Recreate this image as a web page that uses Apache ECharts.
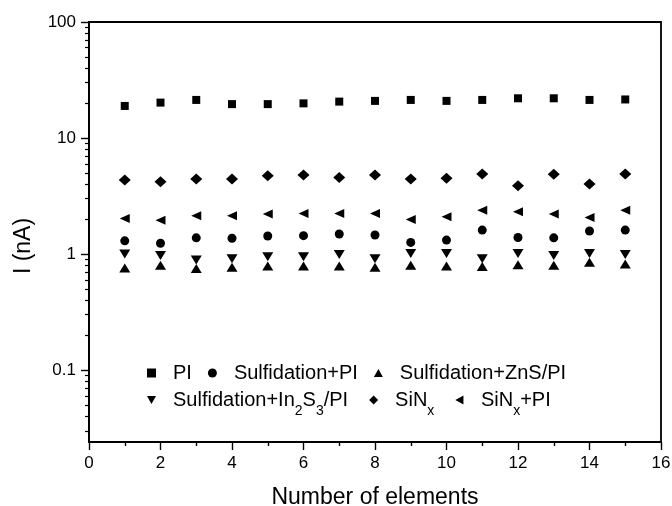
<!DOCTYPE html>
<html>
<head>
<meta charset="utf-8">
<script src="https://cdn.jsdelivr.net/npm/echarts@6/dist/echarts.min.js"></script>
<style>
  html, body { margin: 0; padding: 0; background: #fff; }
  #chart { width: 672px; height: 506px; }
</style>
</head>
<body>
<div id="chart"></div>
<script>
// Leakage current of each element for the different passivation stacks
const elements = [1, 2, 3, 4, 5, 6, 7, 8, 9, 10, 11, 12, 13, 14, 15];

const seriesNames = [
  'PI',
  'Sulfidation+PI',
  'Sulfidation+ZnS/PI',
  'Sulfidation+In2S3/PI',
  'SiNx',
  'SiNx+PI'
];

const currentPI        = [18.9, 20.2, 21.3, 19.6, 19.6, 19.9, 20.6, 20.9, 21.3, 20.9, 21.3, 22.0, 22.0, 21.3, 21.5];
const currentSulfPI    = [1.30, 1.24, 1.38, 1.37, 1.43, 1.44, 1.49, 1.46, 1.26, 1.32, 1.61, 1.39, 1.38, 1.58, 1.61];
const currentSulfZnS   = [0.76, 0.80, 0.75, 0.77, 0.79, 0.79, 0.79, 0.77, 0.80, 0.79, 0.78, 0.81, 0.80, 0.85, 0.82];
const currentSulfIn2S3 = [1.00, 0.97, 0.89, 0.91, 0.95, 0.95, 0.99, 0.91, 1.01, 1.01, 0.91, 1.01, 0.97, 1.01, 0.99];
const currentSiNx      = [4.35, 4.20, 4.43, 4.43, 4.73, 4.80, 4.58, 4.80, 4.43, 4.50, 4.90, 3.88, 4.87, 4.01, 4.90];
const currentSiNxPI    = [2.03, 1.96, 2.14, 2.14, 2.21, 2.24, 2.24, 2.24, 1.99, 2.10, 2.39, 2.32, 2.21, 2.07, 2.39];

// Axis ticks
const yMajorTicks = [0.1, 1, 10, 100];
const yTickLabels = ['0.1', '1', '10', '100'];
const yMinorTicks = [0.03, 0.04, 0.05, 0.06, 0.07, 0.08, 0.09,
                     0.2, 0.3, 0.4, 0.5, 0.6, 0.7, 0.8, 0.9,
                     2, 3, 4, 5, 6, 7, 8, 9,
                     20, 30, 40, 50, 60, 70, 80, 90];

// Legend texts with subscripts
const legendLabels = {
  'PI': 'PI',
  'Sulfidation+PI': 'Sulfidation+PI',
  'Sulfidation+ZnS/PI': 'Sulfidation+ZnS/PI',
  'Sulfidation+In2S3/PI': 'Sulfidation+In{sub|2}S{sub|3}/PI',
  'SiNx': 'SiN{sub|x}',
  'SiNx+PI': 'SiN{sub|x}+PI'
};

// Marker shapes (shared by the plot and the legend)
const SYM_SQUARE = 'rect';
const SYM_CIRCLE = 'circle';
const SYM_UP = 'path://M5,0 L10,9 L0,9 Z';
const SYM_DOWN = 'path://M0,0 L10,0 L5,9 Z';
const SYM_DIAMOND = 'diamond';
const SYM_LEFT = 'path://M0,5 L9,0 L9,10 Z';

const FONT = "'Liberation Sans', Arial, Helvetica, sans-serif";
const INK = '#000';

function pairs(values) {
  return elements.map((x, i) => [x, values[i]]);
}

function scatter(name, values, symbol, size) {
  return {
    name: name,
    type: 'scatter',
    data: pairs(values),
    symbol: symbol,
    symbolSize: size,
    symbolKeepAspect: false,
    itemStyle: { color: INK, opacity: 1 },
    emphasis: { disabled: true },
    silent: true,
    xAxisIndex: 0,
    yAxisIndex: 0
  };
}

const legendIcons = {
  'PI': SYM_SQUARE,
  'Sulfidation+PI': SYM_CIRCLE,
  'Sulfidation+ZnS/PI': SYM_UP,
  'Sulfidation+In2S3/PI': SYM_DOWN,
  'SiNx': SYM_DIAMOND,
  'SiNx+PI': SYM_LEFT
};

function legendRow(names, top, gap) {
  return {
    data: names.map(n => ({ name: n, icon: legendIcons[n] })),
    left: 147,
    top: top,
    orient: 'horizontal',
    padding: 0,
    itemWidth: 9,
    itemHeight: 9,
    itemGap: gap,
    selectedMode: false,
    itemStyle: { color: INK, opacity: 1 },
    formatter: name => legendLabels[name],
    textStyle: {
      fontFamily: FONT,
      fontSize: 20,
      color: INK,
      padding: [0, 0, 0, 12],
      rich: {
        sub: { fontFamily: FONT, fontSize: 14, color: INK, padding: [22, 0, 0, 0] }
      }
    }
  };
}

const chart = echarts.init(document.getElementById('chart'), null, { renderer: 'canvas' });

chart.setOption({
  animation: false,
  backgroundColor: '#fff',
  grid: {
    left: 89,
    right: 11,
    top: 22,
    bottom: 64,
    outerBoundsMode: 'none',
    containLabel: false,
    show: true,
    borderColor: INK,
    borderWidth: 1.8,
    backgroundColor: 'transparent'
  },
  legend: [
    legendRow(seriesNames.slice(0, 3), 363, 16),
    legendRow(seriesNames.slice(3, 6), 390, 21)
  ],
  xAxis: {
    type: 'value',
    min: 0,
    max: 16,
    interval: 2,
    name: 'Number of elements',
    nameLocation: 'middle',
    nameGap: 44,
    nameTextStyle: { fontFamily: FONT, fontSize: 23, color: INK },
    axisLine: { show: true, lineStyle: { color: INK, width: 1.8 } },
    axisTick: { show: true, inside: false, length: 8, lineStyle: { color: INK, width: 1.4 } },
    minorTick: { show: true, splitNumber: 2, length: 4, lineStyle: { color: INK, width: 1.4 } },
    axisLabel: { fontFamily: FONT, fontSize: 17, color: INK, margin: 13 },
    splitLine: { show: false },
    minorSplitLine: { show: false }
  },
  yAxis: [
    {
      type: 'log',
      logBase: 10,
      min: 0.024,
      max: 100,
      name: 'I (nA)',
      nameLocation: 'middle',
      nameGap: 54,
      nameTextStyle: { fontFamily: FONT, fontSize: 23, color: INK, padding: [0, 28, 0, 0] },
      axisLine: { show: true, lineStyle: { color: INK, width: 1.8 } },
      axisTick: { show: true, inside: false, length: 8, customValues: yMajorTicks, lineStyle: { color: INK, width: 1.4 } },
      axisLabel: {
        fontFamily: FONT, fontSize: 17, color: INK, margin: 13,
        customValues: yMajorTicks,
        formatter: v => {
          const i = yMajorTicks.findIndex(t => Math.abs(Math.log10(t) - Math.log10(v)) < 1e-6);
          return i >= 0 ? yTickLabels[i] : '';
        }
      },
      splitLine: { show: false }
    },
    {
      // minor ticks of the logarithmic current axis
      type: 'log',
      logBase: 10,
      min: 0.024,
      max: 100,
      position: 'left',
      offset: 0,
      axisLine: { show: false },
      axisTick: { show: true, inside: false, length: 4, customValues: yMinorTicks, lineStyle: { color: INK, width: 1.2 } },
      axisLabel: { show: false },
      splitLine: { show: false }
    }
  ],
  series: [
    scatter('PI', currentPI, SYM_SQUARE, 8),
    scatter('Sulfidation+PI', currentSulfPI, SYM_CIRCLE, 9),
    scatter('Sulfidation+ZnS/PI', currentSulfZnS, SYM_UP, [11, 9]),
    scatter('Sulfidation+In2S3/PI', currentSulfIn2S3, SYM_DOWN, [11, 9]),
    scatter('SiNx', currentSiNx, SYM_DIAMOND, [12, 11]),
    scatter('SiNx+PI', currentSiNxPI, SYM_LEFT, [10, 9])
  ]
});
</script>
</body>
</html>
